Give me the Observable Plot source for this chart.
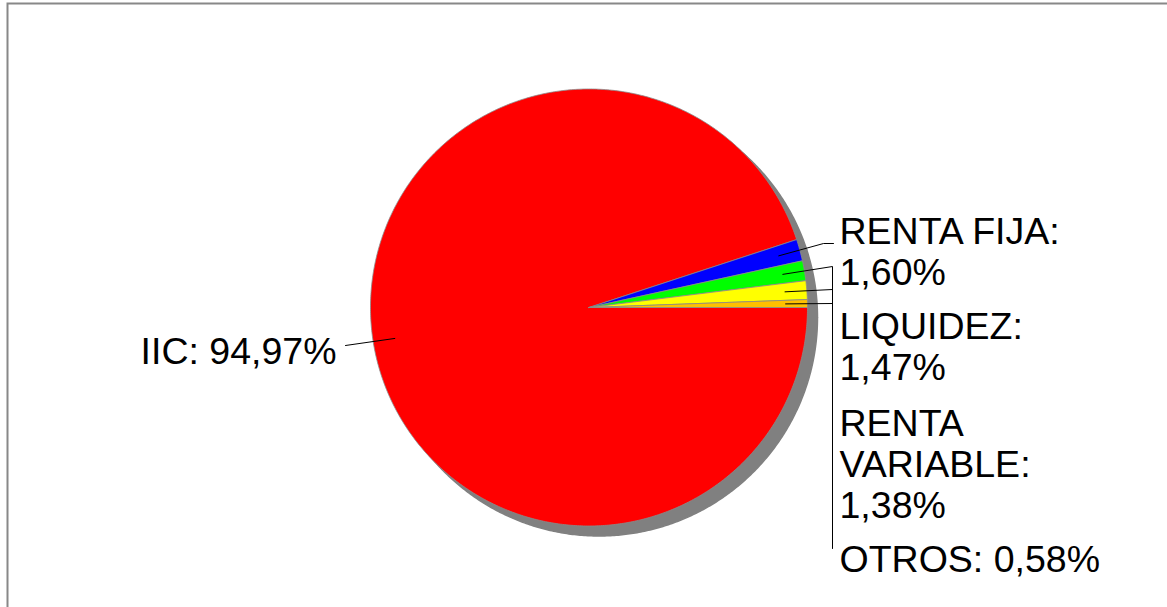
<!DOCTYPE html>
<html><head><meta charset="utf-8">
<script src="https://cdn.jsdelivr.net/npm/d3@7"></script>
<script src="https://cdn.jsdelivr.net/npm/@observablehq/plot@0.6"></script>
<style>html,body{margin:0;padding:0;background:#fff;overflow:hidden}</style>
</head><body><div id="chart"></div>
<script>
// ---- data ----
const categories = ["IIC", "RENTA FIJA", "LIQUIDEZ", "RENTA VARIABLE", "OTROS"];
const values = [94.97, 1.60, 1.47, 1.38, 0.58];
const colors = ["#FF0000", "#0000FF", "#00FF00", "#FFFF00", "#FFC000"];
const labelNames = ["IIC: ", "RENTA FIJA:\n", "LIQUIDEZ:\n", "RENTA\nVARIABLE:\n", "OTROS: "];

// ---- layout ----
const W = 1167, H = 607, CX = 588.5, CY = 307, R = 218.5;
const px2x = px => (px - CX) / R;
const py2y = py => (CY - py) / R;
const rad = d => d * Math.PI / 180;
const layout = {
  "IIC":            {elbows: [[345, 345]],             label: [336, 335], anchor: "end"},
  "RENTA FIJA":     {elbows: [[823, 243], [833, 243]], label: [839, 215], anchor: "start"},
  "LIQUIDEZ":       {elbows: [[832, 266], [832, 340]], label: [839, 310], anchor: "start"},
  "RENTA VARIABLE": {elbows: [[832, 289], [832, 450]], label: [839, 407], anchor: "start"},
  "OTROS":          {elbows: [[832, 303], [832, 548]], label: [839, 543], anchor: "start"}
};

// slices clockwise from east, starting with IIC
const total = d3.sum(values);
let cum = 0;
const slices = categories.map((c, i) => {
  const a1 = 360 - cum / total * 360;
  cum += values[i];
  const a0 = 360 - cum / total * 360;
  return {c, a0, a1, mid: (a0 + a1) / 2};
});
const slicePts = [];
slices.forEach(s => {
  slicePts.push({c: s.c, x: 0, y: 0});
  const n = Math.max(2, Math.ceil((s.a1 - s.a0) / 0.5));
  for (let k = 0; k <= n; k++) {
    const a = rad(s.a0 + (s.a1 - s.a0) * k / n);
    slicePts.push({c: s.c, x: Math.cos(a), y: Math.sin(a)});
  }
  slicePts.push({c: s.c, x: 0, y: 0});
});
const leaderPts = [];
slices.forEach(s => {
  leaderPts.push({c: s.c, x: 0.9 * Math.cos(rad(s.mid)), y: 0.9 * Math.sin(rad(s.mid))});
  layout[s.c].elbows.forEach(([px, py]) => leaderPts.push({c: s.c, x: px2x(px), y: py2y(py)}));
});
const labels = categories.map((c, i) => ({
  c,
  text: labelNames[i] + values[i].toFixed(2).replace(".", ",") + "%",
  x: px2x(layout[c].label[0]),
  y: py2y(layout[c].label[1]),
  anchor: layout[c].anchor
}));

const textOpts = {x: "x", y: "y", text: "text", lineAnchor: "top", fontSize: 37.5, lineHeight: 40.8 / 37.5, fill: "#000"};
const chart = Plot.plot({
  width: W, height: H,
  marginLeft: 7, marginTop: 3, marginRight: -5, marginBottom: -5,
  x: {domain: [-1, 1], range: [CX - R, CX + R], axis: null},
  y: {domain: [-1, 1], range: [CY + R, CY - R], axis: null},
  color: {domain: categories, range: colors},
  style: {fontFamily: "'Liberation Sans', Arial, sans-serif", background: "#fff", maxWidth: "none"},
  marks: [
    Plot.frame({stroke: "#888", strokeWidth: 2}),
    Plot.line(slicePts, {x: "x", y: "y", z: "c", fill: "#808080", stroke: "#808080", dx: 10, dy: 10}),
    Plot.line(slicePts, {x: "x", y: "y", z: "c", fill: "c", stroke: "#8a8a8a", strokeWidth: 0.8}),
    Plot.line(leaderPts, {x: "x", y: "y", z: "c", stroke: "#000", strokeWidth: 1}),
    Plot.text(labels.filter(d => d.anchor === "start"), {...textOpts, textAnchor: "start"}),
    Plot.text(labels.filter(d => d.anchor === "end"), {...textOpts, textAnchor: "end"})
  ]
});
document.getElementById("chart").appendChild(chart);
</script>
</body></html>
